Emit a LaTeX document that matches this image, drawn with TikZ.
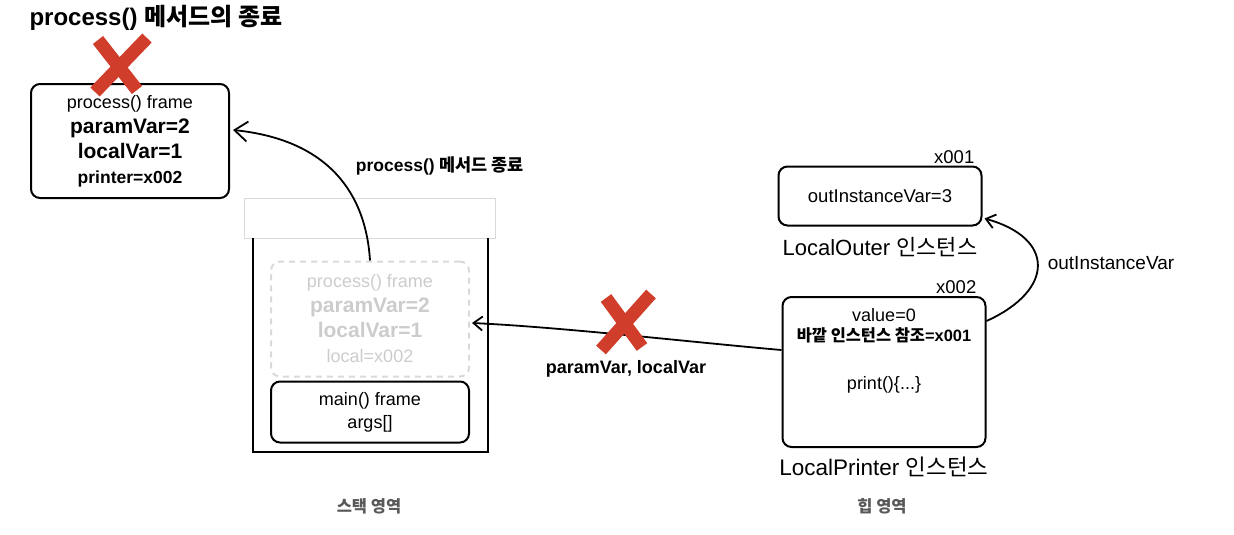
\documentclass[tikz,border=0pt]{standalone}
\usepackage{fontspec}
\setmainfont{Liberation Sans}
\newfontfamily\kr{Noto Sans CJK KR}
\usetikzlibrary{positioning,arrows.meta}

\definecolor{xred}{HTML}{D13D2B}
\newcommand{\fs}[1]{\fontsize{#1}{25}\selectfont}
\newcommand{\fsl}[2]{\fontsize{#1}{#2}\selectfont}

\tikzset{
  framebox/.style={draw, line width=2pt, rounded corners=9pt, align=center, inner sep=0pt},
  ghostbox/.style={draw=black!15, line width=2pt, dash pattern=on 6pt off 5pt,
    rounded corners=9pt, align=center, text=black!20, inner sep=0pt},
  ref/.style={-{Straight Barb[length=9pt,width=14pt]}, line width=1.8pt},
  cross/.style={draw=xred, line width=13pt},
  area/.style={font=\bfseries\fs{16.5}\kr, text=black!65},
}

\begin{document}
\begin{tikzpicture}[x=1pt,y=-1pt]
    \useasboundingbox (0,0) rectangle (1234,535);

    \node[anchor=west, font=\bfseries\fs{24}] (title) at (26,18) {process() {\kr 메서드의 종료}};

    % frame that is gone
    \node[framebox, minimum width=198pt, minimum height=114pt, font=\fs{18}] (deadframe) at (130,141)
        {process() frame\\ {\bfseries\fs{21}paramVar=2}\\ {\bfseries\fs{21}localVar=1}\\ {\bfseries\fs{17.5}printer=x002}};
    \draw[cross] (98,40) -- (137,90);
    \draw[cross] (147,38) -- (95,92);

    % stack
    \draw[draw=black!15, line width=1pt] (244,198) rectangle (495,238);
    \draw[line width=2pt] (253,238) |- (488,452) -- (488,238);
    \node[ghostbox, minimum width=198pt, minimum height=115pt, font=\fs{18}] (ghost) at (370,319)
        {process() frame\\ {\bfseries\fs{21}paramVar=2}\\ {\bfseries\fs{21}localVar=1}\\ local=x002};
    \node[framebox, minimum width=198pt, minimum height=61pt, font={\fsl{18}{23}}] (mainframe) at (370,412)
        {main() frame\\ args[]};
    \node[area] (stackarea) at (369,506) {스택 영역};

    % heap
    \node[framebox, minimum width=203pt, minimum height=59pt, font=\fs{18.5}] (outer) at (880,196) {outInstanceVar=3};
    \node[anchor=south east, font=\fs{18.5}, inner sep=2pt] (addr1) at ([xshift=-6pt]outer.north east) {x001};
    \node[below=7pt of outer, font=\fs{22}] (outername) {LocalOuter {\kr 인스턴스}};

    \node[framebox, minimum width=203pt, minimum height=150pt] (printer) at (884,372) {};
    \node[anchor=south east, font=\fs{18.5}, inner sep=2pt] (addr2) at ([xshift=-8pt]printer.north east) {x002};
    \node[below=9pt of printer.north, align=center, font={\fsl{18}{20}}] (fields)
        {value=0\\ {\bfseries\fsl{16.4}{20}{\kr 바깥 인스턴스 참조}=x001}\\[28pt] print()\{...\}};
    \node[below=5pt of printer, font=\fs{22.5}] (printername) {LocalPrinter {\kr 인스턴스}};
    \node[area] (heaparea) at (882,506) {힙 영역};

    % references
    \draw[ref, -{Straight Barb[length=13pt,width=20pt]}] (ghost.north)
        .. controls (366,195) and (330,140) .. ([xshift=3pt,yshift=11pt]deadframe.east);
    \node[font=\bfseries\fs{17.5}] (endlabel) at (440,166) {process() {\kr 메서드 종료}};

    \draw[ref] ([yshift=22pt]printer.west) .. controls (700,343) and (560,327) .. ([xshift=2pt,yshift=-4pt]ghost.east);
    \draw[cross] (606,298) -- (642,347);
    \draw[cross] (651,294) -- (601,350);
    \node[font=\bfseries\fs{18}] (passlabel) at (626,369) {paramVar, localVar};

    \draw[ref] ([yshift=-25pt]printer.north east) .. controls (1055,290) and (1055,238) .. ([xshift=2pt,yshift=8pt]outer.south east);
    \node[font=\fs{19}] (outlabel) at (1111,263) {outInstanceVar};
\end{tikzpicture}
\end{document}
